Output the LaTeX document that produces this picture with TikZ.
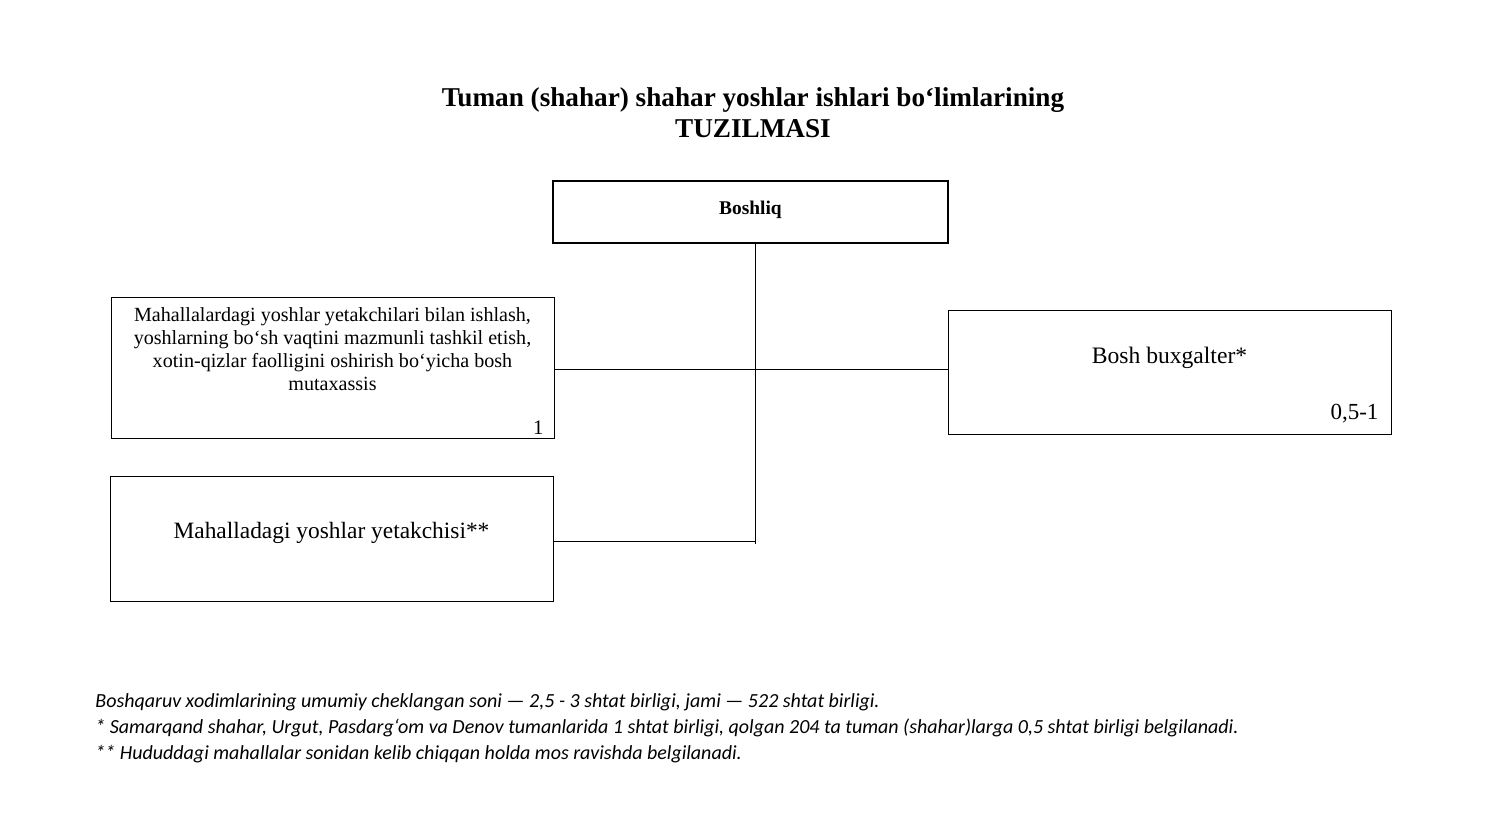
\documentclass[tikz,border=0pt]{standalone}
\usepackage{fontspec}
\setmainfont{Liberation Serif}
\newfontfamily\notefont{Carlito}
\usetikzlibrary{positioning}

\tikzset{
  unitbox/.style={draw, line width=0.5pt, inner sep=0pt, minimum width=221.5pt},
  chiefbox/.style={draw, line width=1.2pt, inner sep=0pt, minimum width=197.5pt, minimum height=31pt,
    text depth=4pt, font=\bfseries\fontsize{9.7}{11}\selectfont},
  link/.style={line width=0.5pt},
  notetext/.style={anchor=base west, inner sep=0pt, font=\notefont\itshape\fontsize{10}{12}\selectfont}
}

\begin{document}
\begin{tikzpicture}[x=0.5pt,y=-0.5pt]
  \useasboundingbox (0,0) rectangle (1512,834);

  % title
  \node[align=center, font=\bfseries\fontsize{13.6}{15.5}\selectfont] (title) at (753,113)
    {Tuman (shahar) shahar yoshlar ishlari bo‘limlarining\\TUZILMASI};

  % boxes
  \node[chiefbox] (boss) at (750.5,212) {Boshliq};
  \node[unitbox, minimum height=70.5pt] (spec) at (332.5,368.5) {};
  \node[unitbox, minimum height=62pt] (buh) at (1169.5,373) {};
  \node[unitbox, minimum height=62pt] (leader) at (332,539) {};

  % texts in boxes
  \node[below=1.5pt of spec.north, align=center, font=\fontsize{10.05}{11.5}\selectfont] (spectext)
    {Mahallalardagi yoshlar yetakchilari bilan ishlash,\\yoshlarning bo‘sh vaqtini mazmunli tashkil etish,\\xotin-qizlar faolligini oshirish bo‘yicha bosh\\mutaxassis};
  \node[above left=-1pt and 2pt of spec.south east, font=\fontsize{10.3}{11.5}\selectfont] (specnum) {1};
  \node[font=\fontsize{11.8}{13}\selectfont] (buhtext) at (1169.5,358) {Bosh buxgalter*};
  \node[above left=2.5pt and 3pt of buh.south east, font=\fontsize{11.5}{13}\selectfont] (buhnum) {0,5-1};
  \node[font=\fontsize{11.7}{13}\selectfont] (leadertext) at (331.5,533) {Mahalladagi yoshlar yetakchisi**};

  % connectors
  \draw[link] ([xshift=2.25pt]boss.south) -- ++(0,300) coordinate (bot);
  \draw[link] (spec.east |- 0,370) -- (buh.west |- 0,370);
  \draw[link] (leader.east |- 0,542) -- (bot |- 0,542);

  % notes
  \node[notetext] (note1) at (95,707) {Boshqaruv xodimlarining umumiy cheklangan soni — 2,5 - 3 shtat birligi, jami — 522 shtat birligi.};
  \node[notetext] (note2) at (95,733) {* Samarqand shahar, Urgut, Pasdarg‘om va Denov tumanlarida 1 shtat birligi, qolgan 204 ta tuman (shahar)larga 0,5 shtat birligi belgilanadi.};
  \node[notetext] (note3) at (95,759) {** Hududdagi mahallalar sonidan kelib chiqqan holda mos ravishda belgilanadi.};
\end{tikzpicture}
\end{document}
